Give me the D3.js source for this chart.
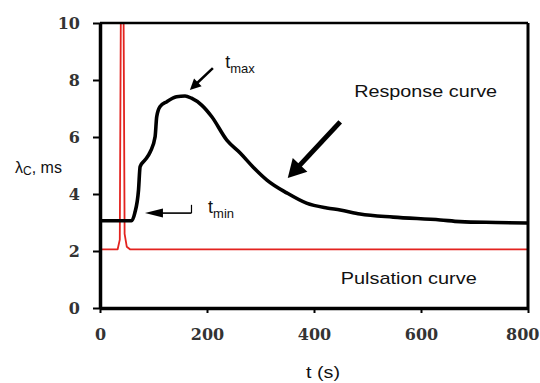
<!DOCTYPE html>
<html>
<head>
<meta charset="utf-8">
<script src="https://cdn.jsdelivr.net/npm/d3@7"></script>
<style>
  body { margin: 0; background: #fff; }
  .axis text { font: bold 16px "DejaVu Serif"; fill: #333; }
  .lbl { font-family: "Liberation Sans", Arial, sans-serif; fill: #111; }
</style>
</head>
<body>
<svg id="chart" width="540" height="383"></svg>
<script>
// response curve (t in s, lambda_C in ms)
const respT = [0, 59, 65, 72, 75, 84, 94, 103, 106, 112, 125, 143, 159, 171, 190, 209, 237, 262, 286, 312, 349, 386, 424, 449, 486, 548, 636, 673, 740, 800]
const respV = [3.06, 3.06, 3.33, 4.14, 4.96, 5.19, 5.48, 6.01, 6.71, 7.06, 7.24, 7.41, 7.44, 7.36, 7.12, 6.71, 5.89, 5.44, 4.95, 4.49, 4.04, 3.68, 3.51, 3.44, 3.30, 3.19, 3.09, 3.03, 3.0, 2.98]

// pulsation curve (injection spike)
const pulsT = [0, 33, 37, 39, 44, 46, 50, 56, 800]
const pulsV = [2.06, 2.06, 2.4, 10.6, 10.6, 2.6, 2.15, 2.06, 2.06]

const xTicks = [0, 200, 400, 600, 800]
const yTicks = [0, 2, 4, 6, 8, 10]

let svg = d3.select("#chart"),
    margin = {top: 23, right: 12, bottom: 75, left: 100},
    width = +svg.attr("width") - margin.left - margin.right,
    height = +svg.attr("height") - margin.top - margin.bottom

let x = d3.scaleLinear().domain([0, 800]).range([margin.left, margin.left + width]),
    y = d3.scaleLinear().domain([0, 10]).range([margin.top + height, margin.top])

svg.append("clipPath").attr("id", "plot")
    .append("rect")
    .attr("x", x(0)).attr("y", y(10))
    .attr("width", width).attr("height", height)

let line = d3.line()
    .x(d => x(d[0]))
    .y(d => y(d[1]))

// pulsation
svg.append("path")
    .datum(d3.zip(pulsT, pulsV))
    .attr("clip-path", "url(#plot)")
    .attr("d", line)
    .attr("fill", "none")
    .attr("stroke", "#e3231f")
    .attr("stroke-width", 1.8)
    .attr("stroke-linejoin", "round")

// response
svg.append("path")
    .datum(d3.zip(respT, respV))
    .attr("d", line.curve(d3.curveMonotoneX))
    .attr("fill", "none")
    .attr("stroke", "#000")
    .attr("stroke-width", 3.6)
    .attr("stroke-linejoin", "round")

// frame top + right
svg.append("line")
    .attr("x1", x(0)).attr("x2", x(800)).attr("y1", y(10)).attr("y2", y(10))
    .attr("stroke", "#000").attr("stroke-width", 2.5)
svg.append("line")
    .attr("x1", x(800)).attr("x2", x(800)).attr("y1", y(10)).attr("y2", y(0))
    .attr("stroke", "#000").attr("stroke-width", 3)

// axes
let gx = svg.append("g")
    .attr("class", "axis")
    .attr("transform", "translate(0," + y(0) + ")")
    .call(d3.axisBottom(x).tickValues(xTicks).tickSize(5).tickSizeOuter(0).tickPadding(16))
// last label sits at the page edge, keep it inside
gx.selectAll(".tick text").filter(d => d === 800)
    .attr("text-anchor", "end").attr("dx", 11)
let gy = svg.append("g")
    .attr("class", "axis")
    .attr("transform", "translate(" + x(0) + ",0)")
    .call(d3.axisLeft(y).tickValues(yTicks).tickSize(7).tickSizeOuter(0).tickPadding(13))
svg.selectAll(".axis .domain").attr("stroke-width", 3.5)
svg.selectAll(".axis .tick line").attr("stroke-width", 2)

// arrows with filled heads
const arrow = (t1, v1, t2, v2, w, headLen, headW) => {
    let x1 = x(t1), y1 = y(v1), x2 = x(t2), y2 = y(v2)
    let dx = x2 - x1, dy = y2 - y1, len = Math.hypot(dx, dy)
    let ux = dx / len, uy = dy / len
    let bx = x2 - ux * headLen, by = y2 - uy * headLen
    svg.append("line")
        .attr("x1", x1).attr("y1", y1).attr("x2", bx + ux * 2).attr("y2", by + uy * 2)
        .attr("stroke", "#000").attr("stroke-width", w)
    svg.append("path")
        .attr("d", "M" + x2 + "," + y2 +
            "L" + (bx - uy * headW / 2) + "," + (by + ux * headW / 2) +
            "L" + (bx + uy * headW / 2) + "," + (by - ux * headW / 2) + "Z")
        .attr("fill", "#000")
}

arrow(449, 6.53, 351, 4.56, 5, 18, 20)      // response curve
arrow(211, 8.42, 168, 7.65, 2.5, 11, 11)    // t max
arrow(171, 3.33, 84, 3.33, 1.6, 18, 9)      // t min
svg.append("line")
    .attr("x1", x(171)).attr("x2", x(171)).attr("y1", y(3.33)).attr("y2", y(3.62))
    .attr("stroke", "#000").attr("stroke-width", 1.2)

// labels
const subLabel = (px, py, main, sub, size, subSize) => {
    let t = svg.append("text").attr("class", "lbl")
        .attr("x", px).attr("y", py)
        .style("font-size", size + "px")
    t.append("tspan").text(main)
    t.append("tspan").attr("dy", size * 0.25).style("font-size", subSize + "px").text(sub)
    return t
}
subLabel(x(234), y(8.42), "t", "max", 18, 13)
subLabel(x(202), y(3.33), "t", "min", 18, 13)

svg.append("text").attr("class", "lbl")
    .attr("x", x(475)).attr("y", y(7.4))
    .attr("textLength", 143).attr("lengthAdjust", "spacingAndGlyphs")
    .style("font-size", "17px")
    .text("Response curve")
svg.append("text").attr("class", "lbl")
    .attr("x", x(450)).attr("y", y(0.84))
    .attr("textLength", 136).attr("lengthAdjust", "spacingAndGlyphs")
    .style("font-size", "17px")
    .text("Pulsation curve")

let yl = svg.append("text").attr("class", "lbl")
    .attr("x", 15).attr("y", 173)
    .style("font-size", "16px")
yl.append("tspan").text("λ")
yl.append("tspan").attr("dy", 2).style("font-size", "12px").text("C")
yl.append("tspan").attr("dy", -2).text(", ms")

svg.append("text").attr("class", "lbl")
    .attr("x", 306).attr("y", 378)
    .attr("textLength", 34).attr("lengthAdjust", "spacingAndGlyphs")
    .style("font-size", "16px")
    .text("t (s)")
</script>
</body>
</html>
